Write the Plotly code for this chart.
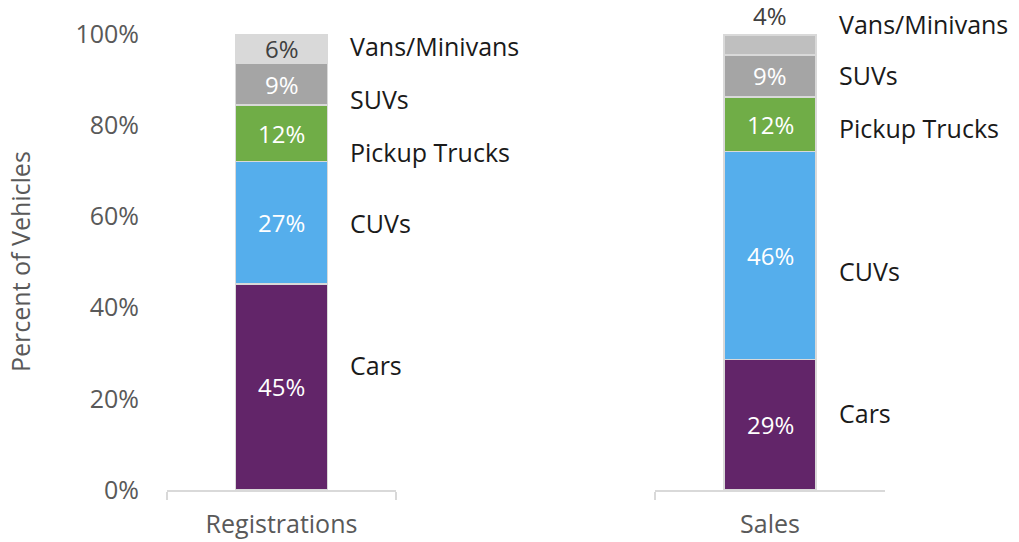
import plotly.graph_objects as go

# ---- data ----
groups = ["Registrations", "Sales"]
segments = ["Cars", "CUVs", "Pickup Trucks", "SUVs", "Vans/Minivans"]
registrations = [45.2, 26.8, 12.4, 9.2, 6.4]
sales = [28.6, 45.6, 12.0, 9.2, 4.4]
y_ticks = [0, 20, 40, 60, 80, 100]
y_tick_labels = ["0%", "20%", "40%", "60%", "80%", "100%"]

# ---- styling / positions ----
colors_reg = ["#622569", "#55AEEC", "#70AD47", "#A5A5A5", "#D9D9D9"]
colors_sales = ["#622569", "#55AEEC", "#70AD47", "#A5A5A5", "#BFBFBF"]
text_colors = ["white", "white", "white", "white", "#404040"]
label_pos_reg = [27.4, 58.6, 74.1, 85.7, 97.4]
label_pos_sales = [16.9, 48.0, 79.4, 91.0, 102.2]
FONT = "Open Sans, sans-serif"
FS = 25

W, H = 1019, 542
x1 = [167 / W, 396 / W]
x2 = [655 / W, 885 / W]
ydom = [(H - 490) / H, (H - 34) / H]

fig = go.Figure()

panels = [
    (groups[0], registrations, colors_reg, "x", "y", label_pos_reg),
    (groups[1], sales, colors_sales, "x2", "y2", label_pos_sales),
]

for name, vals, cols, xa, ya, lpos in panels:
    base = 0.0
    for i, seg in enumerate(segments):
        fig.add_trace(go.Bar(
            x=[name], y=[vals[i]], name=seg,
            xaxis=xa, yaxis=ya,
            marker=dict(color=cols[i], line=dict(color="#D9D9D9", width=1.5)),
            showlegend=False, hoverinfo="skip",
        ))
        # value label: centred in segment, or above the bar for thin top segments
        is_top = i == len(segments) - 1
        if is_top and vals[i] < 5:
            ly, yanch, ysh = base + vals[i], "bottom", 1
        else:
            ly, yanch, ysh = base + vals[i] / 2, "middle", 0
        fig.add_annotation(
            x=name, xref=xa, y=ly, yref=ya, yanchor=yanch, yshift=ysh,
            text=f"{vals[i]:.0f}%", showarrow=False,
            font=dict(family=FONT, size=FS - 1, color=text_colors[i]),
        )
        base += vals[i]
    for i, seg in enumerate(segments):
        py = ydom[0] + lpos[i] / 100 * (ydom[1] - ydom[0])
        fig.add_annotation(
            x=0.2, xref=xa, xshift=21, y=py, yref="paper",
            text=seg, showarrow=False, xanchor="left", yanchor="middle",
            font=dict(family=FONT, size=FS, color="#1a1a1a"),
        )

fig.add_annotation(
    x=20 / W, xref="paper", y=(H - 262) / H, yref="paper",
    text="Percent of Vehicles", textangle=-90, showarrow=False,
    xanchor="center", yanchor="middle",
    font=dict(family=FONT, size=FS, color="#595959"),
)

xcommon = dict(
    range=[-0.5, 0.5], showline=True, linecolor="#D9D9D9", linewidth=1.5,
    ticks="outside", tickson="boundaries", tickcolor="#D9D9D9", ticklen=8,
    tickwidth=1.5, tickfont=dict(family=FONT, size=FS, color="#595959"),
    ticklabelstandoff=11,
    showgrid=False, zeroline=False, fixedrange=True, automargin=False,
)
fig.update_layout(
    width=W, height=H,
    margin=dict(l=0, r=0, t=0, b=0, autoexpand=False),
    paper_bgcolor="white", plot_bgcolor="white",
    barmode="stack", bargap=0.6,
    xaxis=dict(domain=x1, anchor="y", **xcommon),
    xaxis2=dict(domain=x2, anchor="y2", **xcommon),
    yaxis=dict(
        domain=ydom, range=[0, 100], tickvals=y_ticks, ticktext=y_tick_labels,
        showgrid=False, zeroline=False, showline=False, ticks="",
        ticklabelstandoff=27, automargin=False, fixedrange=True,
        tickfont=dict(family=FONT, size=FS, color="#595959"),
    ),
    yaxis2=dict(
        domain=ydom, range=[0, 100], anchor="x2", showgrid=False,
        zeroline=False, showline=False, showticklabels=False, ticks="",
        automargin=False, fixedrange=True,
    ),
    font=dict(family=FONT),
)

fig.write_html(
    "out.html",
    config={"displayModeBar": False},
    post_script="document.body.style.margin='0';document.body.style.overflow='hidden';",
)
